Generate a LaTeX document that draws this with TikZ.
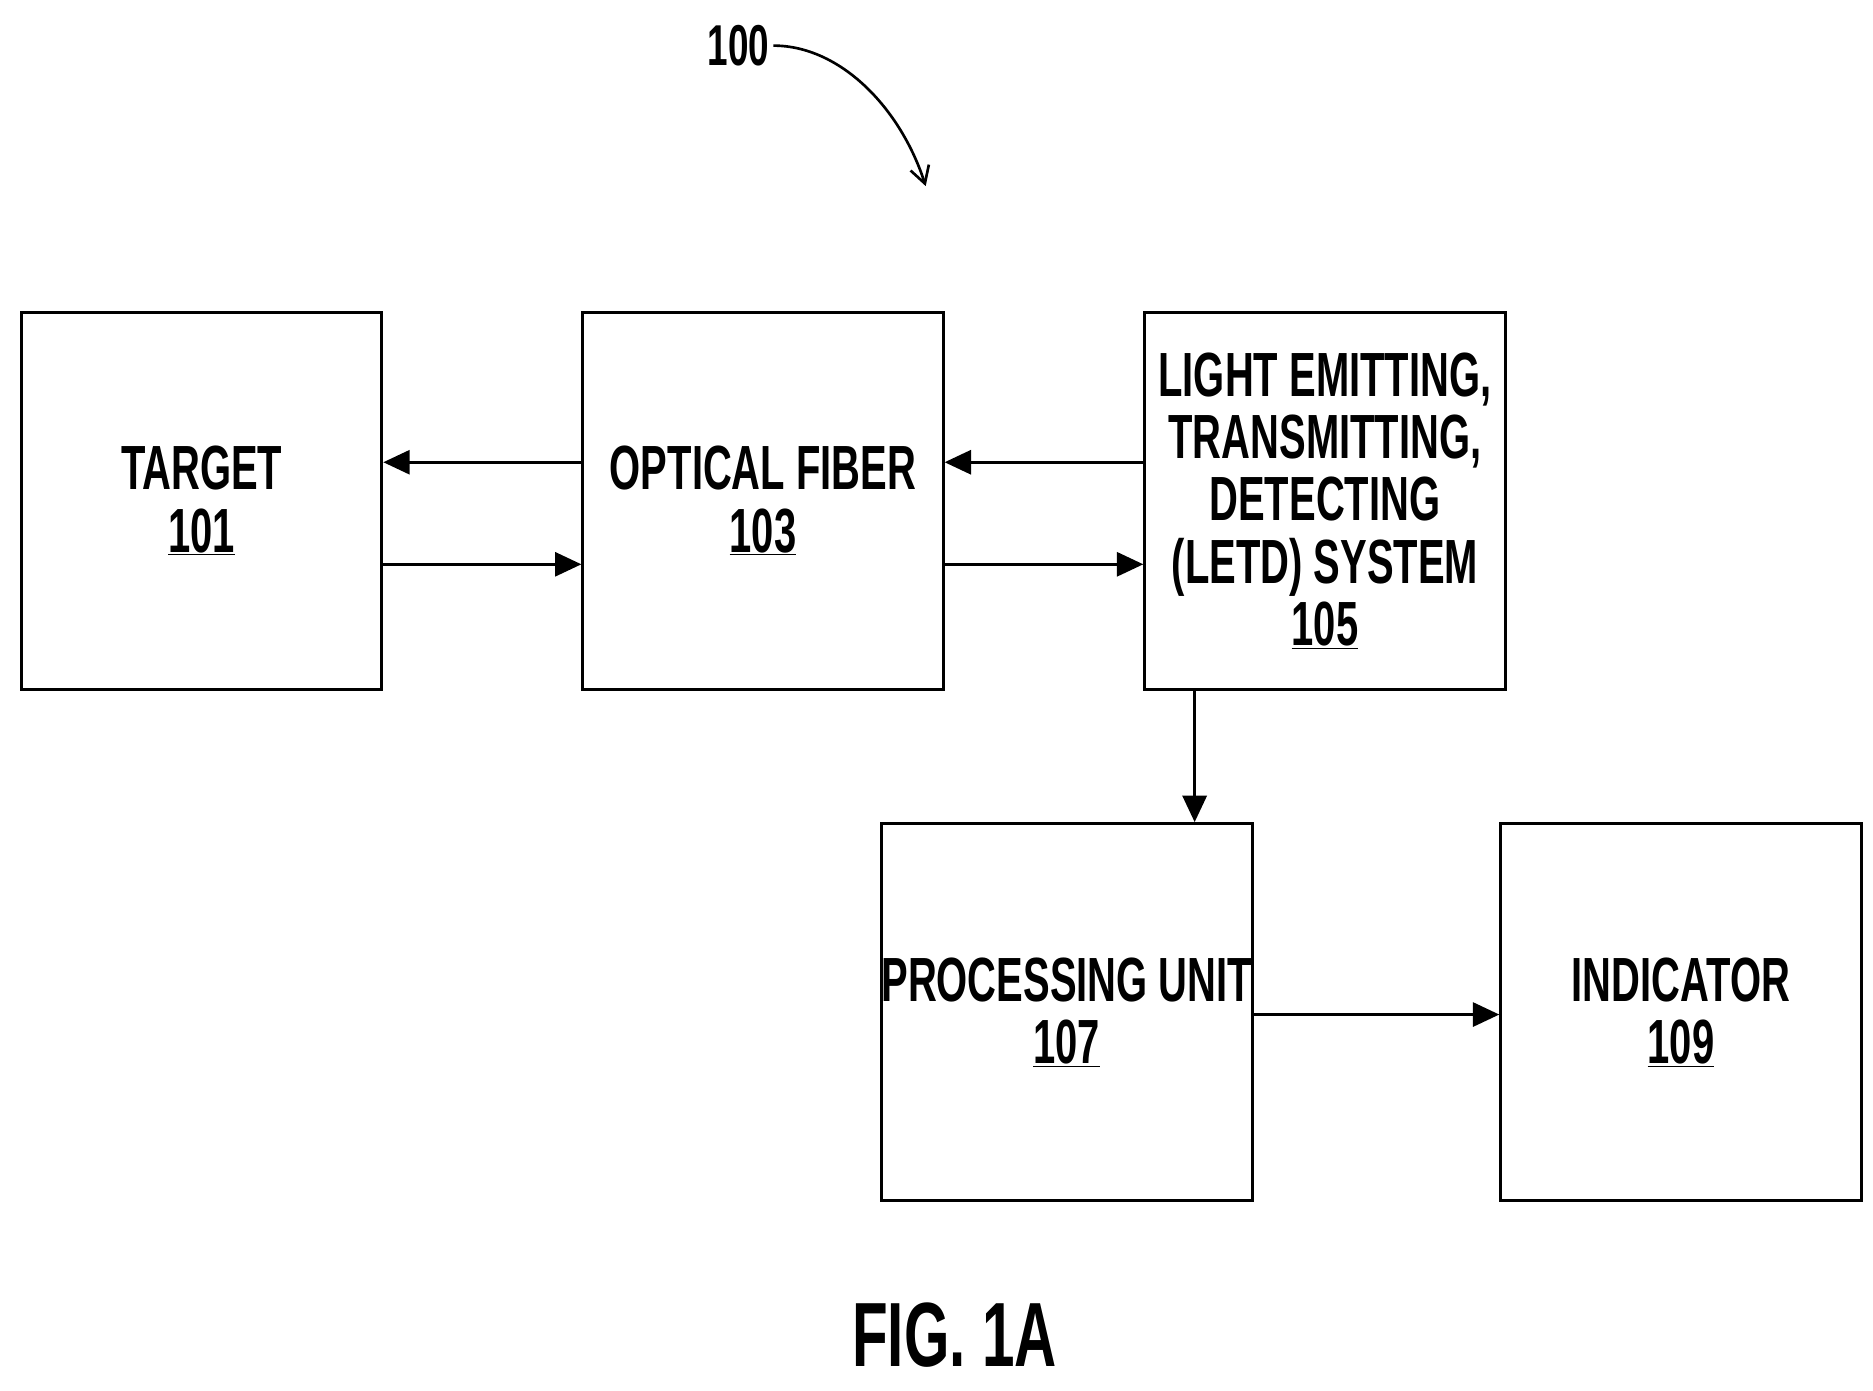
\documentclass[tikz,border=0pt]{standalone}
\usepackage{fontspec}
\setmainfont{Liberation Sans}[FakeStretch=0.64,BoldFont={Liberation Sans Bold},BoldFeatures={FakeStretch=0.64}]
\usetikzlibrary{arrows.meta}
\begin{document}
\begin{tikzpicture}[x=1pt,y=-1pt,
 box/.style={draw,line width=2.5pt,minimum width=300pt,minimum height=314pt,align=center,inner sep=0pt,
   font=\bfseries\fontsize{52}{52}\selectfont},
 arr/.style={line width=2.5pt,-{Triangle[length=22pt,width=20pt]}}]
\useasboundingbox (0,0) rectangle (1560,1158);
\node[box] (t) at (168,417) {TARGET\\\underline{101}};
\node[box] (o) at (635.5,417) {OPTICAL FIBER\\\underline{103}};
\node[box] (l) at (1103.5,417) {LIGHT EMITTING,\\TRANSMITTING,\\DETECTING\\(LETD) SYSTEM\\\underline{105}};
\node[box] (p) at (888.5,843) {PROCESSING UNIT\\\underline{107}};
\node[box] (i) at (1400,843) {INDICATOR\\\underline{109}};
\draw[arr] (o.west|-0,385) -- (t.east|-0,385);
\draw[arr] (t.east|-0,470) -- (o.west|-0,470);
\draw[arr] (l.west|-0,385) -- (o.east|-0,385);
\draw[arr] (o.east|-0,470) -- (l.west|-0,470);
\draw[arr] (995,0|-l.south) -- (995,0|-p.north);
\draw[arr] (p.east|-0,845) -- (i.west|-0,845);
\node[font=\bfseries\fontsize{48}{48}\selectfont] (n) at (615,38) {100};
\coordinate (e) at (771,155);
\draw[line width=2.2pt,-{Straight Barb[length=14pt,width=16pt]}] (n.east) .. controls (700,38) and (750,90) .. (e);
\node[font=\bfseries\fontsize{76}{76}\selectfont] (f) at (795,1112) {FIG. 1A};
\end{tikzpicture}
\end{document}
